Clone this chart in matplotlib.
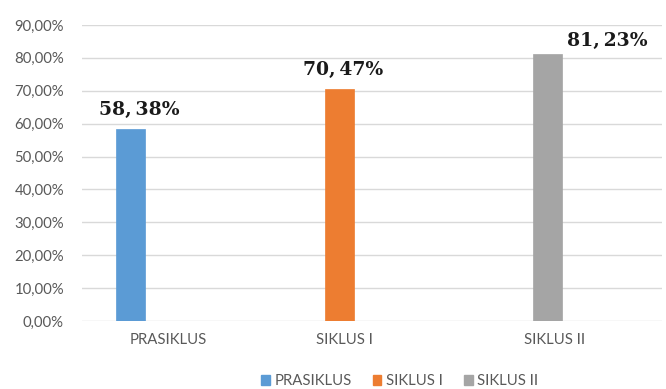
import numpy as np
import matplotlib
matplotlib.use("Agg")
import matplotlib.pyplot as plt
from matplotlib.patches import Patch
from matplotlib.ticker import FuncFormatter

categories = ["PRASIKLUS", "SIKLUS I", "SIKLUS II"]
series_names = ["PRASIKLUS", "SIKLUS I", "SIKLUS II"]
values = [58.38, 70.47, 81.23]
value_labels = ["58,\u200938%", "70,\u200947%", "81,\u200923%"]
colors = ["#5B9BD5", "#ED7D31", "#A5A5A5"]

plt.rcParams['font.family'] = ['Lato', 'DejaVu Sans']
fig = plt.figure(figsize=(6.66, 3.89), dpi=100)
ax = fig.add_axes([82/666, 1-321/389, (662-82)/666, (321-25)/389])

w = 0.1616
idx = np.arange(len(categories))
for s, (v, c) in enumerate(zip(values, colors)):
    x = idx[s] + (s - 1) * w
    ax.bar(x, v, width=w, color=c, edgecolor=c, linewidth=0.5, zorder=3)

label_offsets = [(6, 14), (3, 14), (43, 9)]
for s, (v, t) in enumerate(zip(values, value_labels)):
    x = idx[s] + (s - 1) * w
    ax.annotate(t, (x, v), xytext=label_offsets[s], textcoords='offset points',
                ha='center', va='center', fontsize=13.5, fontweight='bold',
                family='DejaVu Serif', color='#1a1a1a')

ax.set_ylim(0, 90)
ax.set_yticks(np.arange(0, 91, 10))
ax.yaxis.set_major_formatter(FuncFormatter(lambda y, p: f"{y:.2f}%".replace('.', ',')))
ax.set_xlim(-0.4318, (662-159.5)/179.5)
tick_shift = [0.05, 0.03, 0.2]
ax.set_xticks(idx + np.array(tick_shift))
ax.set_xticklabels(categories)
ax.tick_params(axis='both', length=0, labelsize=10.7, colors='#595959')
ax.tick_params(axis='y', pad=13)
ax.tick_params(axis='x', pad=9)
ax.grid(axis='y', color='#D9D9D9', linewidth=1, zorder=0)
for sp in ax.spines.values():
    sp.set_visible(False)

handles = [Patch(facecolor=c, edgecolor=c, label=n) for n, c in zip(series_names, colors)]
leg = fig.legend(handles=handles, loc='center', bbox_to_anchor=(0.60, 0.02), ncol=3,
                 frameon=False, fontsize=10.7, handlelength=0.6, handleheight=0.6,
                 handletextpad=0.3, columnspacing=1.4)
for t in leg.get_texts():
    t.set_color('#595959')

fig.savefig("out.png", dpi=100)
